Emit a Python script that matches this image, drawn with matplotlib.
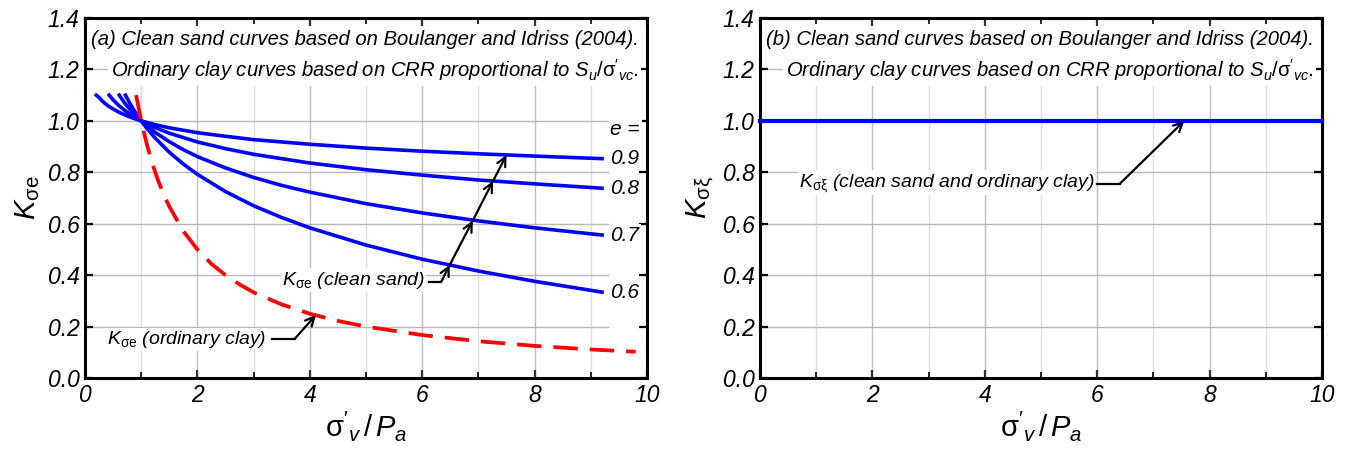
import numpy as np
import matplotlib
matplotlib.use('Agg')
import matplotlib.pyplot as plt
from matplotlib import font_manager

# ---- data ----
x_e09 = [0.2, 0.25, 0.3, 0.35, 0.4, 0.5, 0.6, 0.7, 0.85, 1.0, 1.25, 1.5, 2, 2.5, 3, 4, 5, 6, 7, 8, 9.2]
k_e09 = [1.10, 1.091, 1.079, 1.069, 1.060, 1.046, 1.034, 1.024, 1.011, 1.0, 0.985, 0.973, 0.954, 0.940,
         0.927, 0.909, 0.894, 0.882, 0.872, 0.863, 0.853]
x_e08 = [0.43, 0.5, 0.6, 0.7, 0.8, 0.9, 1.0, 1.25, 1.5, 2, 2.5, 3, 4, 5, 6, 7, 8, 9.2]
k_e08 = [1.10, 1.082, 1.060, 1.042, 1.026, 1.012, 1.0, 0.974, 0.952, 0.918, 0.892, 0.870, 0.836, 0.810,
         0.789, 0.770, 0.755, 0.738]
x_e07 = [0.61, 0.7, 0.8, 0.9, 1.0, 1.1, 1.25, 1.5, 1.75, 2, 2.5, 3, 3.5, 4, 5, 6, 7, 8, 9.2]
k_e07 = [1.10, 1.071, 1.045, 1.021, 1.0, 0.981, 0.955, 0.919, 0.888, 0.861, 0.817, 0.780, 0.749, 0.723,
         0.678, 0.642, 0.611, 0.584, 0.556]
x_e06 = [0.72, 0.8, 0.9, 1.0, 1.1, 1.25, 1.5, 1.75, 2, 2.5, 3, 3.5, 4, 5, 6, 7, 8, 9.2]
k_e06 = [1.10, 1.067, 1.032, 1.0, 0.971, 0.933, 0.878, 0.832, 0.792, 0.725, 0.670, 0.624, 0.584, 0.517,
         0.462, 0.416, 0.376, 0.334]
x_clay = [0.91, 1.0, 1.1, 1.2, 1.3, 1.4, 1.5, 1.75, 2, 2.25, 2.5, 2.75, 3, 3.5, 4, 4.5, 5, 6, 7, 8, 9, 9.8]
k_clay = [1.10, 1.0, 0.909, 0.833, 0.769, 0.714, 0.667, 0.571, 0.50, 0.444, 0.40, 0.364, 0.333, 0.286,
          0.25, 0.222, 0.20, 0.167, 0.143, 0.125, 0.111, 0.102]
sand_x = [x_e09, x_e08, x_e07, x_e06]
sand_k = [k_e09, k_e08, k_e07, k_e06]
e_labels = ['0.9', '0.8', '0.7', '0.6']
x_flat = [0, 10]
k_flat = [1.0, 1.0]

names = {f.name for f in font_manager.fontManager.ttflist}
narrow = 'Liberation Sans Narrow' if 'Liberation Sans Narrow' in names else 'Liberation Sans'
plt.rcParams['font.family'] = ['Liberation Sans', 'DejaVu Sans']
plt.rcParams['mathtext.fontset'] = 'custom'
plt.rcParams['mathtext.rm'] = 'Liberation Sans'
plt.rcParams['mathtext.it'] = 'Liberation Sans:italic'
plt.rcParams['mathtext.bf'] = 'Liberation Sans:bold'

BLUE = '#0000ff'
RED = '#ff0000'

fig = plt.figure(figsize=(13.45, 4.51), dpi=100)
ax1 = fig.add_axes([85 / 1345, 1 - 378 / 451, 562 / 1345, 360 / 451])
ax2 = fig.add_axes([760 / 1345, 1 - 378 / 451, 562 / 1345, 360 / 451])

title1 = 'Clean sand curves based on Boulanger and Idriss (2004).'
title2 = r"Ordinary clay curves based on CRR proportional to $S_u/\mathrm{\sigma}'_{vc}$."


def style(ax, tag, ylab, hx_max):
    ax.set_xlim(0, 10)
    ax.set_ylim(0, 1.4)
    ax.set_xticks(np.arange(0, 11, 2))
    ax.set_xticks(np.arange(1, 10, 2), minor=True)
    ax.set_yticks(np.arange(0, 1.41, 0.2))
    ax.set_xticklabels([f'{v:d}' for v in range(0, 11, 2)])
    ax.set_yticklabels([f'{v:.1f}' for v in np.arange(0, 1.41, 0.2)])
    for lab in ax.get_xticklabels() + ax.get_yticklabels():
        lab.set_fontstyle('italic')
        lab.set_fontsize(16.5)
    ax.tick_params(axis='both', which='both', direction='in', top=True, right=True,
                   length=6, width=1.6, color='black', pad=4)
    ax.tick_params(axis='x', which='minor', length=4, width=1.2)
    ax.tick_params(axis='x', which='major', color='#333333')
    for s in ax.spines.values():
        s.set_linewidth(2.2)
    # grid, kept below the title block
    for xv in range(1, 10):
        ax.axvline(xv, ymax=1.15 / 1.4, color='#c0c0c0' if xv % 2 == 0 else '#dedede',
                   lw=1, zorder=0)
    for yv in [0.2, 0.4, 0.6, 0.8, 1.0, 1.2]:
        ax.axhline(yv, xmax=hx_max, color='#b8b8b8', lw=1, zorder=0)
    ax.text(0.01, 0.939, f'({tag}) ' + title1, transform=ax.transAxes, fontsize=14.6,
            fontstyle='italic', family=[narrow, 'DejaVu Sans'], ha='left', va='center',
            bbox=dict(facecolor='white', edgecolor='none', pad=2), zorder=5)
    ax.text(0.985, 0.855, title2, transform=ax.transAxes, fontsize=14.6,
            fontstyle='italic', family=[narrow, 'DejaVu Sans'], ha='right', va='center',
            bbox=dict(facecolor='white', edgecolor='none', pad=2), zorder=5)
    ax.set_xlabel(r"$\mathrm{\sigma}'_{v}\,/\,P_{a}$", fontsize=21, labelpad=2)
    ax.set_ylabel(ylab, fontsize=21, labelpad=4)


def leader(ax, pts):
    ax.plot([pts[0][0], pts[1][0]], [pts[0][1], pts[1][1]], color='black', lw=1.6, zorder=6)
    for a, b in zip(pts[1:-1], pts[2:]):
        ax.annotate('', xy=b, xytext=a,
                    arrowprops=dict(arrowstyle='->', color='black', lw=1.6,
                                    shrinkA=0, shrinkB=0, mutation_scale=16), zorder=6)


# ---- panel (a) ----
style(ax1, 'a', r'$K_{\mathrm{\sigma e}}$', 0.93)
for xs, ks, lab in zip(sand_x, sand_k, e_labels):
    ax1.plot(xs, ks, color=BLUE, lw=2.6, zorder=3, solid_joinstyle='round')
    ax1.text(xs[-1] + 0.15, ks[-1], lab, fontsize=15, fontstyle='italic',
             ha='left', va='center', zorder=4,
             bbox=dict(facecolor='white', edgecolor='none', pad=1))
ax1.text(9.35, 0.965, 'e =', fontsize=15, fontstyle='italic', ha='left', va='center',
         bbox=dict(facecolor='white', edgecolor='none', pad=1), zorder=4)
ax1.plot(x_clay, k_clay, color=RED, lw=2.7, dashes=(6.5, 3.2), zorder=3)

ax1.text(6.05, 0.38, r'$K_{\mathrm{\sigma e}}$ (clean sand)', fontsize=14, fontstyle='italic',
         ha='right', va='center', zorder=6,
         bbox=dict(facecolor='white', edgecolor='none', pad=1))
leader(ax1, [(6.12, 0.375), (6.34, 0.375), (6.49, 0.44), (6.9, 0.612), (7.26, 0.766), (7.5, 0.867)])

ax1.text(3.22, 0.15, r'$K_{\mathrm{\sigma e}}$ (ordinary clay)', fontsize=14, fontstyle='italic',
         ha='right', va='center', zorder=6,
         bbox=dict(facecolor='white', edgecolor='none', pad=1))
leader(ax1, [(3.33, 0.152), (3.73, 0.152), (4.11, 0.245)])

# ---- panel (b) ----
style(ax2, 'b', r'$K_{\mathrm{\sigma \xi}}$', 1.0)
ax2.plot(x_flat, k_flat, color=BLUE, lw=3, zorder=3, clip_on=False)
ax2.text(5.96, 0.76, r'$K_{\mathrm{\sigma \xi}}$ (clean sand and ordinary clay)', fontsize=14,
         fontstyle='italic', ha='right', va='center', zorder=6,
         bbox=dict(facecolor='white', edgecolor='none', pad=1))
leader(ax2, [(6.0, 0.755), (6.4, 0.755), (7.55, 1.0)])

fig.savefig('out.png', dpi=100, facecolor='white')
